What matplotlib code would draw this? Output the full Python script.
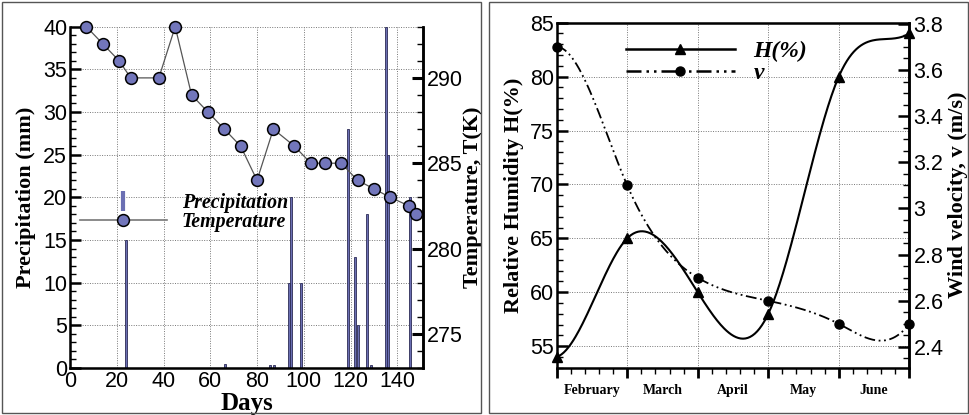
import numpy as np
import matplotlib.pyplot as plt
from matplotlib.lines import Line2D
from matplotlib.patches import Rectangle
from matplotlib.ticker import MultipleLocator
import matplotlib.transforms as mtransforms

# ---- data: left panel (precipitation bars + temperature line) ----
rain_days = [24, 66.4, 85.4, 87.4, 93.6, 94.7, 98.9, 119, 122.1, 123.3, 126.9, 128.9, 135, 136.1, 145.4]
rain_mm = [15, 0.5, 0.4, 0.3, 10, 20, 10, 28, 13, 5, 18, 0.3, 40, 25, 20]

temp_days = [7, 14, 21, 26, 38, 45, 52, 59, 66, 73, 80, 87, 96, 103, 109, 116, 123, 130, 137, 145, 148]
temp_K = [293, 292, 291, 290, 290, 293, 289, 288, 287, 286, 284, 287, 286, 285, 285, 285,
          284, 283.5, 283, 282.5, 282]

# ---- data: right panel (humidity + wind velocity) ----
months = ['February', 'March', 'April', 'May', 'June']
humidity = [54, 65, 60, 58, 80, 84]
wind = [3.7, 3.1, 2.7, 2.6, 2.5, 2.5]

sans = 'Liberation Sans'
serif = 'Liberation Serif'
bar_col = '#6b6fb3'
marker_col = '#7276bb'
tick_fs = 15.5
label_fs = 16


def clamped_spline(x, y, s0, sn, n=300):
    # cubic spline with given end slopes, only used to draw the smooth curve
    x = np.asarray(x, float)
    y = np.asarray(y, float)
    k = len(x)
    h = np.diff(x)
    A = np.zeros((k, k))
    r = np.zeros(k)
    A[0, 0], A[0, 1] = 2 * h[0], h[0]
    r[0] = 6 * ((y[1] - y[0]) / h[0] - s0)
    A[-1, -2], A[-1, -1] = h[-1], 2 * h[-1]
    r[-1] = 6 * (sn - (y[-1] - y[-2]) / h[-1])
    for i in range(1, k - 1):
        A[i, i - 1] = h[i - 1]
        A[i, i] = 2 * (h[i - 1] + h[i])
        A[i, i + 1] = h[i]
        r[i] = 6 * ((y[i + 1] - y[i]) / h[i] - (y[i] - y[i - 1]) / h[i - 1])
    M = np.linalg.solve(A, r)
    xs = np.linspace(x[0], x[-1], n)
    idx = np.clip(np.searchsorted(x, xs) - 1, 0, k - 2)
    x0, x1 = x[idx], x[idx + 1]
    hh = x1 - x0
    a = (x1 - xs) / hh
    b = (xs - x0) / hh
    ys = a * y[idx] + b * y[idx + 1] + ((a ** 3 - a) * M[idx] + (b ** 3 - b) * M[idx + 1]) * hh ** 2 / 6
    return xs, ys


fig = plt.figure(figsize=(9.7, 4.15), dpi=100)

# panel frames
fig.patches.append(Rectangle((2 / 970, 2 / 415), 479 / 970, 411 / 415, transform=fig.transFigure,
                             fill=False, edgecolor='#555555', lw=1))
fig.patches.append(Rectangle((489 / 970, 2 / 415), 479 / 970, 411 / 415, transform=fig.transFigure,
                             fill=False, edgecolor='#555555', lw=1))

# ================= left panel =================
ax1 = fig.add_axes([70 / 970, 1 - 368 / 415, 353 / 970, 341.3 / 415])
ax1.bar(rain_days, rain_mm, width=0.9, color=bar_col, edgecolor='#2b2b55', linewidth=0.6, zorder=2)
ax1.set_xlim(0, 151)
ax1.set_ylim(0, 40)
ax1.xaxis.set_major_locator(MultipleLocator(20))
ax1.yaxis.set_major_locator(MultipleLocator(5))
ax1.yaxis.set_minor_locator(MultipleLocator(1))
ax1.grid(True, which='major', linestyle=(0, (1, 1.5)), color='#777777', lw=0.7, zorder=0)
ax1.tick_params(axis='x', length=0, pad=2, labelsize=tick_fs)
ax1.tick_params(axis='y', which='major', direction='in', length=8, width=1.8, pad=2, labelsize=tick_fs)
ax1.tick_params(axis='y', which='minor', direction='in', length=4, width=1)
ax1.spines['top'].set_visible(False)
for s in ['left', 'bottom', 'right']:
    ax1.spines[s].set_linewidth(1.8)
ax1.set_xlabel('Days', fontfamily=serif, fontweight='bold', fontsize=18, labelpad=0)
ax1.set_ylabel('Precipitation (mm)', fontfamily=serif, fontweight='bold', fontsize=label_fs, labelpad=5)
for lab in ax1.get_xticklabels() + ax1.get_yticklabels():
    lab.set_fontfamily(sans)

ax1r = ax1.twinx()
ax1r.plot(temp_days, temp_K, color='#555555', lw=0.9, marker='o', ms=8.5,
          mfc=marker_col, mec='black', mew=1.1, zorder=3, clip_on=False)
ax1r.set_ylim(273, 293)
ax1r.yaxis.set_major_locator(MultipleLocator(5))
ax1r.yaxis.set_minor_locator(MultipleLocator(1))
ax1r.tick_params(axis='y', which='major', direction='in', length=8, width=2.2, pad=3, labelsize=tick_fs)
ax1r.tick_params(axis='y', which='minor', direction='in', length=4, width=1)
ax1r.spines['top'].set_visible(False)
ax1r.spines['right'].set_linewidth(1.8)
ax1r.set_ylabel('Temperature, T(K)', fontfamily=serif, fontweight='bold', fontsize=label_fs, labelpad=0)
for lab in ax1r.get_yticklabels():
    lab.set_fontfamily(sans)

h_rain = Line2D([], [], color=bar_col, marker='|', linestyle='none', ms=14, mew=3)
h_temp = Line2D([], [], color='#777777', lw=1.2, marker='o', ms=8.5, mfc=marker_col, mec='black', mew=1.1)
ax1r.legend([h_rain, h_temp], ['Precipitation', 'Temperature'], loc='upper left',
            bbox_to_anchor=(0.005, 0.535), frameon=False, handlelength=4.4, handletextpad=0.75,
            labelspacing=-0.05, borderaxespad=0,
            prop={'family': serif, 'style': 'italic', 'weight': 'bold', 'size': 14.3})

# ================= right panel =================
xpts = np.arange(len(humidity))
ax2 = fig.add_axes([556.7 / 970, 1 - 367.7 / 415, 352.6 / 970, 345 / 415])
hx, hy = clamped_spline(xpts, humidity, 2.0, 4.0)
ax2.plot(hx, hy, color='black', lw=1.5, zorder=3)
ax2.plot(xpts, humidity, linestyle='none', marker='^', ms=7.5, color='black', zorder=4, clip_on=False)
ax2.set_xlim(0, 5)
ax2.set_ylim(53, 85)
ax2.set_xticks(xpts)
ax2.set_xticklabels([])
ax2.xaxis.set_minor_locator(MultipleLocator(0.2))
ax2.yaxis.set_major_locator(MultipleLocator(5))
ax2.yaxis.set_minor_locator(MultipleLocator(1))
ax2.grid(True, which='major', linestyle=(0, (1, 1.5)), color='#777777', lw=0.7, zorder=0)
ax2.tick_params(axis='x', which='major', direction='out', length=7, width=2)
ax2.tick_params(axis='x', which='minor', direction='out', length=4, width=1)
ax2.tick_params(axis='y', which='major', direction='in', length=8, width=1.8, pad=2, labelsize=tick_fs)
ax2.tick_params(axis='y', which='minor', direction='in', length=4, width=1)
for s in ax2.spines.values():
    s.set_linewidth(1.8)
ax2.set_ylabel('Relative Humidity H(%)', fontfamily=serif, fontweight='bold', fontsize=label_fs, labelpad=4)
for lab in ax2.get_yticklabels():
    lab.set_fontfamily(sans)
trans = mtransforms.blended_transform_factory(ax2.transData, ax2.transAxes)
for i, m in enumerate(months):
    ax2.text(i + 0.5, -0.065, m, transform=trans, ha='center', va='center',
             fontfamily=serif, fontweight='bold', fontsize=10)

ax2r = ax2.twinx()
wx, wy = clamped_spline(xpts, wind, 0.0, 0.4)
ax2r.plot(wx, wy, color='black', lw=1.3, dashes=[6, 2, 1, 2, 1, 2], zorder=3)
ax2r.plot(xpts, wind, linestyle='none', marker='o', ms=6.5, color='black', zorder=4, clip_on=False)
ax2r.set_ylim(2.31, 3.805)
ax2r.yaxis.set_minor_locator(MultipleLocator(0.05))
ax2r.set_yticks([2.4, 2.6, 2.8, 3.0, 3.2, 3.4, 3.6, 3.8])
ax2r.set_yticklabels(['2.4', '2.6', '2.8', '3', '3.2', '3.4', '3.6', '3.8'])
ax2r.tick_params(axis='y', which='major', direction='in', length=8, width=1.8, pad=3, labelsize=tick_fs)
ax2r.tick_params(axis='y', which='minor', direction='in', length=4, width=1)
ax2r.spines['right'].set_linewidth(1.8)
ax2r.set_ylabel('Wind velocity, v (m/s)', fontfamily=serif, fontweight='bold', fontsize=label_fs, labelpad=3)
for lab in ax2r.get_yticklabels():
    lab.set_fontfamily(sans)

h_h = Line2D([], [], color='black', lw=1.8, marker='^', ms=7.5)
h_v = Line2D([], [], color='black', lw=1.8, dashes=[6, 2, 1, 2, 1, 2], marker='o', ms=6.5)
ax2r.legend([h_h, h_v], ['H(%)', 'v'], loc='upper left', bbox_to_anchor=(0.17, 0.975),
            frameon=False, handlelength=4.6, handletextpad=0.8, labelspacing=0.0, borderaxespad=0,
            prop={'family': serif, 'style': 'italic', 'weight': 'bold', 'size': 17})

fig.savefig('out.png', dpi=100)
